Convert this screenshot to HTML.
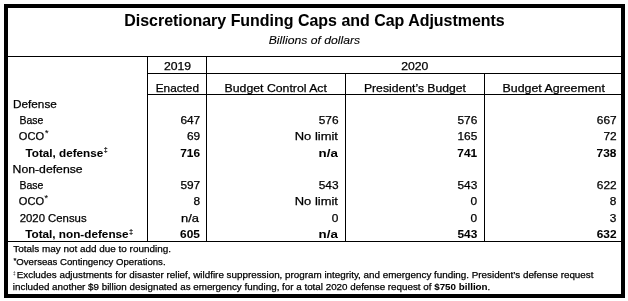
<!DOCTYPE html>
<html><head><meta charset="utf-8"><style>
html,body{margin:0;padding:0;background:#fff;width:628px;height:301px;overflow:hidden}
svg{display:block;will-change:transform}
text{font-family:"Liberation Sans",sans-serif;fill:#000;stroke:#000;stroke-width:0.25px}
text[font-weight=bold]{stroke-width:0.05px}
text[font-style=italic]{stroke-width:0.1px}
</style></head><body>
<svg width="628" height="301" viewBox="0 0 628 301">
<rect width="628" height="301" fill="#fff"/>
<g fill="#000">
<rect x="8" y="56" width="613" height="1"/>
<rect x="147" y="73" width="474" height="1"/>
<rect x="147" y="94" width="474" height="1"/>
<rect x="8" y="241" width="613" height="1"/>
<rect x="147" y="56" width="1" height="186"/>
<rect x="206" y="56" width="1" height="186"/>
<rect x="345" y="73" width="1" height="169"/>
<rect x="484" y="73" width="1" height="169"/>
<rect x="4" y="4" width="621" height="4"/>
<rect x="4" y="294" width="621" height="4"/>
<rect x="4" y="4" width="4" height="294"/>
<rect x="621" y="4" width="4" height="294"/>
</g>
<text x="124.26" y="25.60" font-size="16.5" textLength="380.48" lengthAdjust="spacingAndGlyphs" font-weight="bold">Discretionary Funding Caps and Cap Adjustments</text>
<text x="268.73" y="44.10" font-size="11.8" textLength="91.49" lengthAdjust="spacingAndGlyphs" font-style="italic">Billions of dollars</text>
<text x="163.99" y="70.00" font-size="11.0" textLength="27.16" lengthAdjust="spacingAndGlyphs">2019</text>
<text x="401.29" y="70.00" font-size="11.0" textLength="27.13" lengthAdjust="spacingAndGlyphs">2020</text>
<text x="155.76" y="92.00" font-size="11.0" textLength="43.20" lengthAdjust="spacingAndGlyphs">Enacted</text>
<text x="224.62" y="92.00" font-size="11.0" textLength="102.29" lengthAdjust="spacingAndGlyphs">Budget Control Act</text>
<text x="363.93" y="92.00" font-size="11.0" textLength="102.05" lengthAdjust="spacingAndGlyphs">President’s Budget</text>
<text x="502.61" y="92.00" font-size="11.0" textLength="102.30" lengthAdjust="spacingAndGlyphs">Budget Agreement</text>
<text x="13.06" y="108.00" font-size="11.0" textLength="43.77" lengthAdjust="spacingAndGlyphs">Defense</text>
<text x="19.46" y="124.00" font-size="11.0" textLength="23.90" lengthAdjust="spacingAndGlyphs">Base</text>
<text x="18.80" y="140.00" font-size="11.0" textLength="25.23" lengthAdjust="spacingAndGlyphs">OCO</text>
<text x="25.48" y="157.00" font-size="11.0" textLength="77.82" lengthAdjust="spacingAndGlyphs" font-weight="bold">Total, defense</text>
<text x="12.62" y="173.00" font-size="11.0" textLength="70.04" lengthAdjust="spacingAndGlyphs">Non-defense</text>
<text x="19.46" y="189.00" font-size="11.0" textLength="23.90" lengthAdjust="spacingAndGlyphs">Base</text>
<text x="18.80" y="205.00" font-size="11.0" textLength="25.23" lengthAdjust="spacingAndGlyphs">OCO</text>
<text x="19.73" y="222.00" font-size="11.0" textLength="66.84" lengthAdjust="spacingAndGlyphs">2020 Census</text>
<text x="25.18" y="238.00" font-size="11.0" textLength="103.43" lengthAdjust="spacingAndGlyphs" font-weight="bold">Total, non-defense</text>
<text x="180.41" y="124.00" font-size="11.0" textLength="19.82" lengthAdjust="spacingAndGlyphs">647</text>
<text x="318.69" y="124.00" font-size="11.0" textLength="19.82" lengthAdjust="spacingAndGlyphs">576</text>
<text x="457.50" y="124.00" font-size="11.0" textLength="19.82" lengthAdjust="spacingAndGlyphs">576</text>
<text x="596.81" y="124.00" font-size="11.0" textLength="19.82" lengthAdjust="spacingAndGlyphs">667</text>
<text x="186.95" y="140.00" font-size="11.0" textLength="13.21" lengthAdjust="spacingAndGlyphs">69</text>
<text x="294.76" y="140.00" font-size="11.0" textLength="43.15" lengthAdjust="spacingAndGlyphs">No limit</text>
<text x="457.50" y="140.00" font-size="11.0" textLength="19.82" lengthAdjust="spacingAndGlyphs">165</text>
<text x="603.41" y="140.00" font-size="11.0" textLength="13.21" lengthAdjust="spacingAndGlyphs">72</text>
<text x="180.24" y="157.00" font-size="11.0" textLength="19.82" lengthAdjust="spacingAndGlyphs" font-weight="bold">716</text>
<text x="318.63" y="157.00" font-size="11.0" textLength="19.23" lengthAdjust="spacingAndGlyphs" font-weight="bold">n/a</text>
<text x="457.32" y="157.00" font-size="11.0" textLength="19.82" lengthAdjust="spacingAndGlyphs" font-weight="bold">741</text>
<text x="596.58" y="157.00" font-size="11.0" textLength="19.82" lengthAdjust="spacingAndGlyphs" font-weight="bold">738</text>
<text x="180.41" y="189.00" font-size="11.0" textLength="19.82" lengthAdjust="spacingAndGlyphs">597</text>
<text x="318.69" y="189.00" font-size="11.0" textLength="19.82" lengthAdjust="spacingAndGlyphs">543</text>
<text x="457.50" y="189.00" font-size="11.0" textLength="19.82" lengthAdjust="spacingAndGlyphs">543</text>
<text x="596.81" y="189.00" font-size="11.0" textLength="19.82" lengthAdjust="spacingAndGlyphs">622</text>
<text x="193.48" y="205.00" font-size="11.0" textLength="6.61" lengthAdjust="spacingAndGlyphs">8</text>
<text x="294.76" y="205.00" font-size="11.0" textLength="43.15" lengthAdjust="spacingAndGlyphs">No limit</text>
<text x="470.62" y="205.00" font-size="11.0" textLength="6.61" lengthAdjust="spacingAndGlyphs">0</text>
<text x="609.88" y="205.00" font-size="11.0" textLength="6.61" lengthAdjust="spacingAndGlyphs">8</text>
<text x="181.06" y="222.00" font-size="11.0" textLength="17.94" lengthAdjust="spacingAndGlyphs">n/a</text>
<text x="331.82" y="222.00" font-size="11.0" textLength="6.61" lengthAdjust="spacingAndGlyphs">0</text>
<text x="470.62" y="222.00" font-size="11.0" textLength="6.61" lengthAdjust="spacingAndGlyphs">0</text>
<text x="609.88" y="222.00" font-size="11.0" textLength="6.61" lengthAdjust="spacingAndGlyphs">3</text>
<text x="180.12" y="238.00" font-size="11.0" textLength="19.82" lengthAdjust="spacingAndGlyphs" font-weight="bold">605</text>
<text x="318.63" y="238.00" font-size="11.0" textLength="19.23" lengthAdjust="spacingAndGlyphs" font-weight="bold">n/a</text>
<text x="457.44" y="238.00" font-size="11.0" textLength="19.82" lengthAdjust="spacingAndGlyphs" font-weight="bold">543</text>
<text x="596.70" y="238.00" font-size="11.0" textLength="19.82" lengthAdjust="spacingAndGlyphs" font-weight="bold">632</text>
<text x="13.25" y="251.70" font-size="9.5" textLength="157.69" lengthAdjust="spacingAndGlyphs">Totals may not add due to rounding.</text>
<text x="16.37" y="264.60" font-size="9.5" textLength="149.23" lengthAdjust="spacingAndGlyphs">Overseas Contingency Operations.</text>
<text x="16.81" y="278.00" font-size="9.5" textLength="576.65" lengthAdjust="spacingAndGlyphs">Excludes adjustments for disaster relief, wildfire suppression, program integrity, and emergency funding. President’s defense request</text>
<text x="12.86" y="290.2" font-size="9.5" textLength="418.60" lengthAdjust="spacingAndGlyphs">included another $9 billion designated as emergency funding, for a total 2020 defense request of</text>
<text x="434.19" y="290.2" font-size="9.5" font-weight="bold" textLength="53.40" lengthAdjust="spacingAndGlyphs">$750 billion</text>
<text x="487.59" y="290.2" font-size="9.5">.</text>
<text x="45.0" y="136" font-size="9" style="stroke-width:0.1">*</text>
<text x="44.6" y="201" font-size="9" style="stroke-width:0.1">*</text>
<text x="103.9" y="152" font-size="6.4" style="stroke-width:0.2">‡</text>
<text x="129.3" y="234" font-size="6.6" style="stroke-width:0.2">‡</text>
<text x="13.6" y="263.1" font-size="7.4">*</text>
<text x="13.0" y="274.6" font-size="4.6" style="stroke-width:0">‡</text>
</svg>
</body></html>
